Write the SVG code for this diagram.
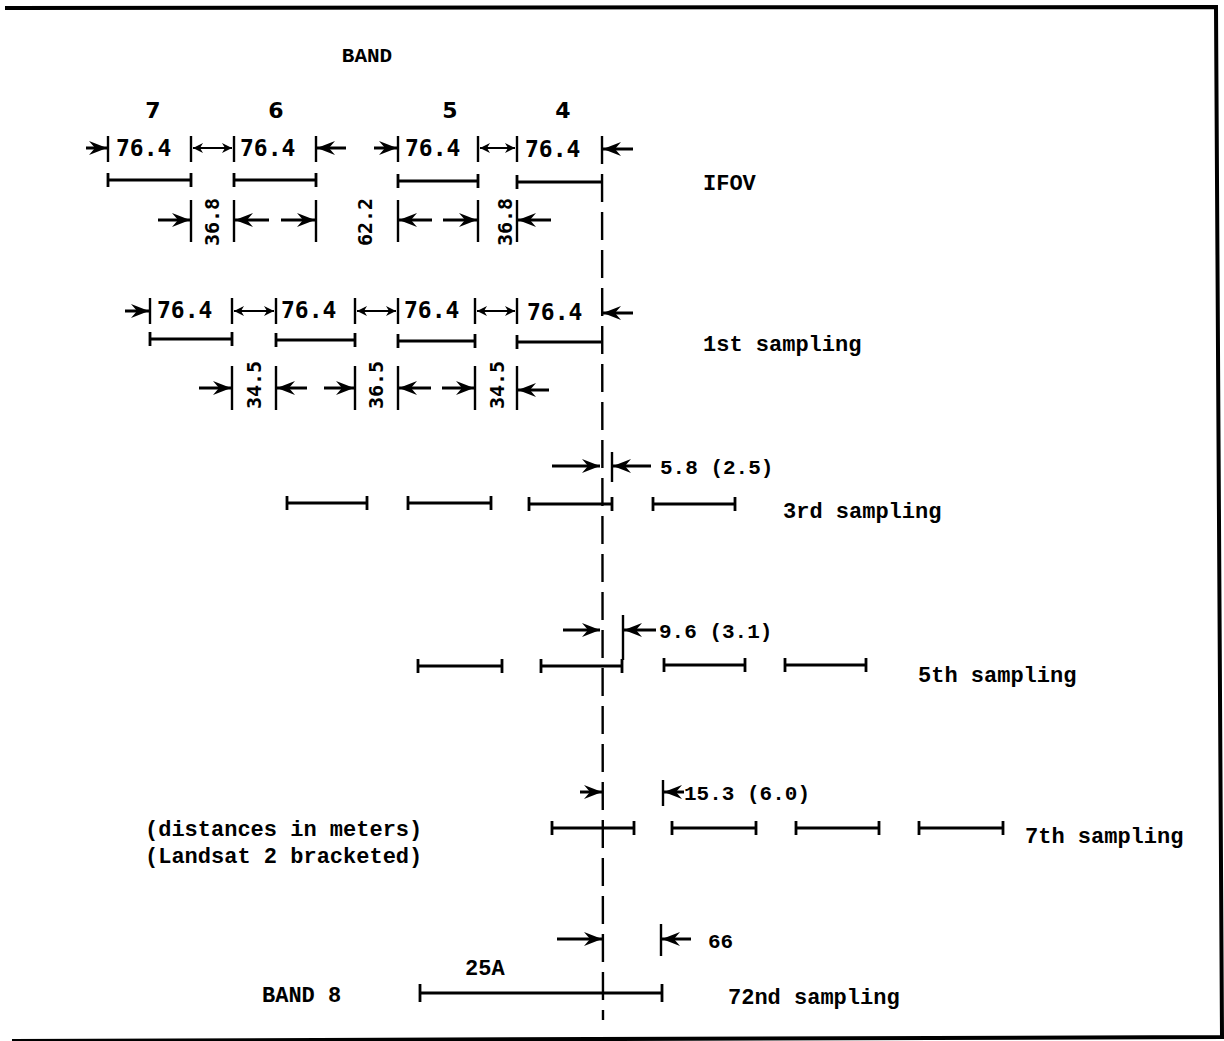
<svg xmlns="http://www.w3.org/2000/svg" width="1224" height="1041" viewBox="0 0 1224 1041">
<style>
.ln{stroke:#000;stroke-width:2.4;fill:none}
.bar{stroke:#000;stroke-width:2.8;fill:none}
.arr{stroke:#000;stroke-width:3;fill:none;marker-end:url(#ah)}
.dbl{stroke:#000;stroke-width:1.8;fill:none;marker-start:url(#sm);marker-end:url(#sm)}
.num{font-family:"DejaVu Sans Mono","Liberation Mono",monospace;font-weight:bold;font-size:23px;fill:#000}
.tw{font-family:"Liberation Mono","DejaVu Sans Mono",monospace;font-weight:bold;font-size:22px;fill:#000}
.val{font-family:"Liberation Mono","DejaVu Sans Mono",monospace;font-weight:bold;font-size:21px;fill:#000}
.hd{font-family:"DejaVu Sans","Liberation Sans",sans-serif;font-weight:bold;font-size:22px;fill:#000;text-anchor:middle}
.rot{font-family:"DejaVu Sans Mono","Liberation Mono",monospace;font-weight:bold;font-size:20px;fill:#000;text-anchor:middle;dominant-baseline:central}
</style>
<defs>
<marker id="ah" viewBox="-19 -8 20 16" refX="0" refY="0" markerWidth="20" markerHeight="16" markerUnits="userSpaceOnUse" orient="auto">
<path d="M-18,-7 L0,0 L-18,7 L-12,0 z" fill="#000"/>
</marker>
<marker id="sm" viewBox="-11 -6 12 12" refX="0" refY="0" markerWidth="12" markerHeight="12" markerUnits="userSpaceOnUse" orient="auto-start-reverse">
<path d="M-10,-5 L0,0 L-10,5 L-7,0 z" fill="#000"/>
</marker>
</defs>
<rect width="1224" height="1041" fill="#fff"/>
<path d="M5,8 L1216,7 L1222,1037 L12,1041" fill="none" stroke="#000" stroke-width="4"/>

<g id="connectors">
<line x1="602" y1="136" x2="603" y2="1020" stroke="#000" stroke-width="2.4" stroke-dasharray="28 10"/>

<g id="row1">
<line class="arr" x1="86" y1="148" x2="107" y2="148"/>
<line class="ln" x1="108" y1="136" x2="108" y2="162"/>
<line class="ln" x1="191" y1="136" x2="191" y2="162"/>
<line class="dbl" x1="193" y1="148" x2="232" y2="148"/>
<line class="ln" x1="234" y1="136" x2="234" y2="162"/>
<line class="ln" x1="316" y1="136" x2="316" y2="162"/>
<line class="arr" x1="346" y1="148" x2="317" y2="148"/>
<line class="arr" x1="374" y1="148" x2="397" y2="148"/>
<line class="ln" x1="398" y1="136" x2="398" y2="162"/>
<line class="ln" x1="478" y1="136" x2="478" y2="162"/>
<line class="dbl" x1="480" y1="148" x2="515" y2="148"/>
<line class="ln" x1="517" y1="136" x2="517" y2="162"/>
<line class="arr" x1="633" y1="149" x2="603" y2="149"/>
</g>
<g id="row1bars">
<path class="bar" d="M108,180 H191 M108,173 V187 M191,173 V187"/>
<path class="bar" d="M234,180 H316 M234,173 V187 M316,173 V187"/>
<path class="bar" d="M398,181 H478 M398,174 V188 M478,174 V188"/>
<path class="bar" d="M517,182 H601 M517,175 V189"/>
</g>
<g id="row2">
<line class="arr" x1="158" y1="220" x2="190" y2="220"/>
<line class="ln" x1="191" y1="200" x2="191" y2="242"/>
<line class="ln" x1="234" y1="200" x2="234" y2="242"/>
<line class="arr" x1="269" y1="220" x2="235" y2="220"/>
<line class="arr" x1="281" y1="220" x2="315" y2="220"/>
<line class="ln" x1="316" y1="200" x2="316" y2="242"/>
<line class="ln" x1="398" y1="200" x2="398" y2="242"/>
<line class="arr" x1="432" y1="220" x2="399" y2="220"/>
<line class="arr" x1="443" y1="220" x2="477" y2="220"/>
<line class="ln" x1="478" y1="200" x2="478" y2="242"/>
<line class="ln" x1="517" y1="200" x2="517" y2="242"/>
<line class="arr" x1="551" y1="220" x2="518" y2="220"/>
</g>

<g id="row3">
<line class="arr" x1="125" y1="311" x2="149" y2="311"/>
<line class="ln" x1="150" y1="298" x2="150" y2="324"/>
<line class="ln" x1="232" y1="298" x2="232" y2="324"/>
<line class="dbl" x1="234" y1="311" x2="274" y2="311"/>
<line class="ln" x1="276" y1="298" x2="276" y2="324"/>
<line class="ln" x1="355" y1="298" x2="355" y2="324"/>
<line class="dbl" x1="357" y1="311" x2="396" y2="311"/>
<line class="ln" x1="398" y1="298" x2="398" y2="324"/>
<line class="ln" x1="475" y1="298" x2="475" y2="324"/>
<line class="dbl" x1="477" y1="311" x2="515" y2="311"/>
<line class="ln" x1="517" y1="298" x2="517" y2="324"/>
<line class="arr" x1="633" y1="313" x2="603" y2="313"/>
</g>
<g id="row3bars">
<path class="bar" d="M150,339 H232 M150,332 V346 M232,332 V346"/>
<path class="bar" d="M276,340 H355 M276,333 V347 M355,333 V347"/>
<path class="bar" d="M398,341 H475 M398,334 V348 M475,334 V348"/>
<path class="bar" d="M517,342 H601 M517,335 V349"/>
</g>
<g id="row4">
<line class="arr" x1="199" y1="388" x2="231" y2="388"/>
<line class="ln" x1="232" y1="366" x2="232" y2="410"/>
<line class="ln" x1="276" y1="366" x2="276" y2="410"/>
<line class="arr" x1="307" y1="388" x2="277" y2="388"/>
<line class="arr" x1="324" y1="388" x2="354" y2="388"/>
<line class="ln" x1="355" y1="366" x2="355" y2="410"/>
<line class="ln" x1="398" y1="366" x2="398" y2="410"/>
<line class="arr" x1="431" y1="388" x2="399" y2="388"/>
<line class="arr" x1="442" y1="388" x2="474" y2="388"/>
<line class="ln" x1="475" y1="366" x2="475" y2="410"/>
<line class="ln" x1="517" y1="366" x2="517" y2="410"/>
<line class="arr" x1="549" y1="390" x2="518" y2="390"/>
</g>

<g id="row5">
<line class="arr" x1="552" y1="466" x2="600" y2="466"/>
<line class="ln" x1="612" y1="452" x2="612" y2="482"/>
<line class="arr" x1="651" y1="466" x2="613" y2="466"/>
<path class="bar" d="M287,503 H367 M287,496 V510 M367,496 V510"/>
<path class="bar" d="M408,503 H491 M408,496 V510 M491,496 V510"/>
<path class="bar" d="M529,504 H612 M529,497 V511 M612,497 V511"/>
<path class="bar" d="M653,504 H735 M653,497 V511 M735,497 V511"/>
</g>

<g id="row6">
<line class="arr" x1="563" y1="630" x2="600" y2="630"/>
<line class="ln" x1="623" y1="615" x2="623" y2="660"/>
<line class="arr" x1="656" y1="630" x2="624" y2="630"/>
<path class="bar" d="M418,666 H502 M418,659 V673 M502,659 V673"/>
<path class="bar" d="M541,666 H622 M541,659 V673 M622,659 V673"/>
<path class="bar" d="M664,665 H745 M664,658 V672 M745,658 V672"/>
<path class="bar" d="M785,665 H866 M785,658 V672 M866,658 V672"/>
</g>

<g id="row7">
<line class="arr" x1="580" y1="792" x2="602" y2="792"/>
<line class="ln" x1="663" y1="780" x2="663" y2="806"/>
<line class="arr" x1="684" y1="792" x2="664" y2="792"/>
<path class="bar" d="M552,828 H634 M552,821 V835 M634,821 V835"/>
<path class="bar" d="M672,828 H756 M672,821 V835 M756,821 V835"/>
<path class="bar" d="M796,828 H879 M796,821 V835 M879,821 V835"/>
<path class="bar" d="M919,828 H1003 M919,821 V835 M1003,821 V835"/>
</g>

<g id="row8">
<line class="arr" x1="557" y1="939" x2="602" y2="939"/>
<line class="ln" x1="661" y1="924" x2="661" y2="956"/>
<line class="arr" x1="691" y1="939" x2="662" y2="939"/>
<path class="bar" d="M420,993 H662 M420,984 V1002 M662,984 V1002"/>
</g>
</g>

<g id="labels">
<text class="tw" x="367" y="62" text-anchor="middle" style="font-size:21px">BAND</text>
<text class="hd" x="153" y="118">7</text>
<text class="hd" x="276" y="118">6</text>
<text class="hd" x="450" y="118">5</text>
<text class="hd" x="563" y="118">4</text>

<text class="num" x="116" y="156">76.4</text>
<text class="num" x="240" y="156">76.4</text>
<text class="num" x="405" y="156">76.4</text>
<text class="num" x="525" y="157">76.4</text>
<text class="tw" x="703" y="190">IFOV</text>

<text class="rot" transform="translate(212,222) rotate(-90)">36.8</text>
<text class="rot" transform="translate(365,222) rotate(-90)">62.2</text>
<text class="rot" transform="translate(505,222) rotate(-90)">36.8</text>

<text class="num" x="157" y="318">76.4</text>
<text class="num" x="281" y="318">76.4</text>
<text class="num" x="404" y="318">76.4</text>
<text class="num" x="527" y="320">76.4</text>
<text class="tw" x="703" y="351">1st sampling</text>

<text class="rot" transform="translate(254,385) rotate(-90)">34.5</text>
<text class="rot" transform="translate(376,385) rotate(-90)">36.5</text>
<text class="rot" transform="translate(497,385) rotate(-90)">34.5</text>

<text class="val" x="660" y="474">5.8 (2.5)</text>
<text class="tw" x="783" y="518">3rd sampling</text>

<text class="val" x="659" y="638">9.6 (3.1)</text>
<text class="tw" x="918" y="682">5th sampling</text>

<text class="val" x="684" y="800">15.3 (6.0)</text>
<text class="tw" x="1025" y="843">7th sampling</text>
<text class="tw" x="145" y="836">(distances in meters)</text>
<text class="tw" x="145" y="863">(Landsat 2 bracketed)</text>

<text class="val" x="708" y="948">66</text>
<text class="tw" x="465" y="975">25A</text>
<text class="tw" x="262" y="1002">BAND 8</text>
<text class="tw" x="728" y="1004">72nd sampling</text>
</g>
</svg>
